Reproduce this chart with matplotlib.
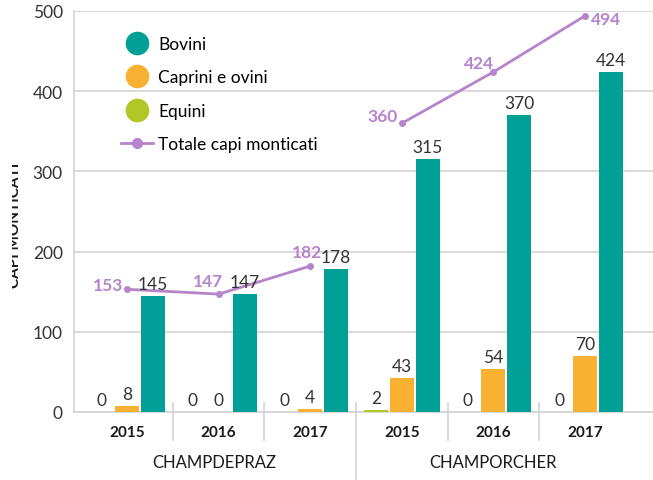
"""Capi monticati: Champdepraz e Champorcher, 2015-2017."""

import numpy as np
import matplotlib.pyplot as plt
from matplotlib.lines import Line2D
from matplotlib.transforms import Bbox, TransformedBbox, blended_transform_factory

plt.rcParams["font.family"] = ["Lato", "DejaVu Sans"]

years = ["2015", "2016", "2017", "2015", "2016", "2017"]
comuni = ["CHAMPDEPRAZ", "CHAMPORCHER"]
bovini = [145, 147, 178, 315, 370, 424]
caprini = [8, 0, 4, 43, 54, 70]
equini = [0, 0, 0, 2, 0, 0]
totale = [153, 147, 182, 360, 424, 494]

TEAL = "#00a096"
ORANGE = "#f8b133"
GREEN = "#b2c625"
PURPLE = "#b784cc"
GRID = "#d3d3d3"
TXT = "#333333"

fig = plt.figure(figsize=(6.53, 4.81), dpi=100)
ax = fig.add_axes([74 / 653, 1 - 413 / 481, 1 - 74 / 653, 401 / 481])

x = np.arange(len(years))
step = 0.283
w = 0.262
series = [(equini, GREEN, -step), (caprini, ORANGE, 0), (bovini, TEAL, step)]
for vals, col, off in series:
    ax.bar(x + off, vals, width=w, color=col, zorder=3)
    for xi, v in zip(x + off, vals):
        ax.annotate(str(v), (xi, v), xytext=(0, 4), textcoords="offset pixels",
                    ha="center", va="bottom", fontsize=12.5, color=TXT, zorder=5)

# one line per comune
for sl in (slice(0, 3), slice(3, 6)):
    ax.plot(x[sl], totale[sl], color=PURPLE, lw=2, marker="o", ms=4, zorder=4)
# label offsets (pixels) for the totals
offs = [(-4, 4, "right"), (4, 13, "right"), (-3, 14, "center"),
        (-4, 7, "right"), (1, 9, "right"), (6, -3, "left")]
for xi, v, (dx, dy, ha) in zip(x, totale, offs):
    ax.annotate(str(v), (xi, v), xytext=(dx, dy), textcoords="offset pixels",
                ha=ha, va="center", fontsize=12.5, fontweight="bold",
                color=PURPLE, zorder=5)

ax.set_xlim(-0.579, 5.742)
ax.set_ylim(0, 500)
ax.set_yticks([0, 100, 200, 300, 400, 500])
ax.set_xticks([])
ax.grid(axis="y", color=GRID, lw=1.2, zorder=0)
for s in ["top", "right"]:
    ax.spines[s].set_visible(False)
ax.spines["left"].set_color(GRID)
ax.spines["bottom"].set_color(GRID)
ax.spines["left"].set_linewidth(1.2)
ax.spines["bottom"].set_linewidth(1.2)
ax.tick_params(axis="y", length=0, pad=8, labelsize=12.5, labelcolor=TXT)

tr = blended_transform_factory(ax.transData, ax.transAxes)
for k in range(len(years) - 1):
    bottom = -0.17 if k == 2 else -0.07
    ax.add_line(Line2D([k + 0.5, k + 0.5], [0.022, bottom], transform=tr,
                       color=GRID, lw=1.2, clip_on=False))
for xi, yr in zip(x, years):
    ax.text(xi, -0.05, yr, transform=tr, ha="center", va="center",
            fontsize=11, fontweight="bold", color="#1a1a1a")
ax.text(0.95, -0.125, comuni[0], transform=tr, ha="center", va="center",
        fontsize=12, color="#1a1a1a")
ax.text(4.0, -0.125, comuni[1], transform=tr, ha="center", va="center",
        fontsize=12, color="#1a1a1a")

handles = [
    Line2D([], [], ls="none", marker="o", ms=16, color=TEAL, label="Bovini"),
    Line2D([], [], ls="none", marker="o", ms=16, color=ORANGE, label="Caprini e ovini"),
    Line2D([], [], ls="none", marker="o", ms=16, color=GREEN, label="Equini"),
    Line2D([], [], color=PURPLE, lw=2, marker="o", ms=7, label="Totale capi monticati"),
]
ax.legend(handles=handles, loc="upper left", bbox_to_anchor=(0.07, 0.955),
          frameon=False, fontsize=12.5, labelspacing=1.0, handlelength=1.8,
          handletextpad=0.3, borderaxespad=0)

ylab = fig.text(22 / 653, 1 - 225 / 481, "CAPI MONTICATI", rotation=90,
                ha="right", va="center", fontsize=11, fontweight="bold",
                color="#1a1a1a")
ylab.set_clip_box(TransformedBbox(Bbox([[12 / 653, 0], [1, 1]]), fig.transFigure))
ylab.set_clip_on(True)

fig.savefig("out.png", dpi=100)
